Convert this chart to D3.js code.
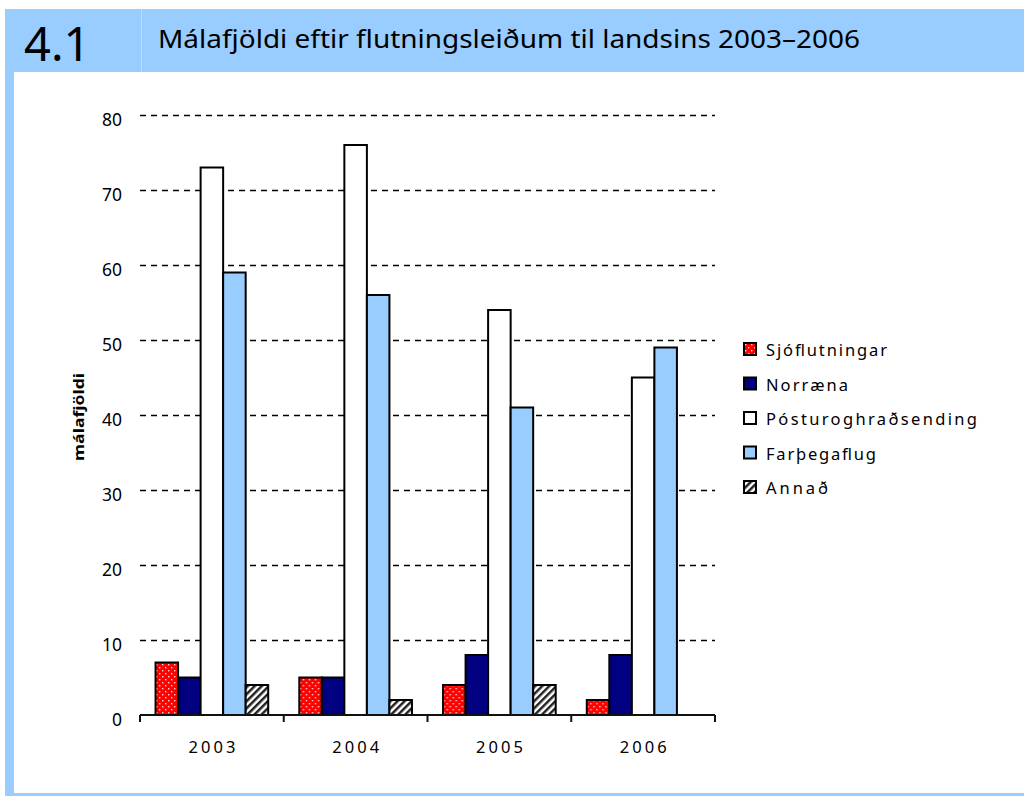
<!DOCTYPE html>
<html>
<head>
<meta charset="utf-8">
<script src="https://cdn.jsdelivr.net/npm/d3@7"></script>
<style>
  html, body { margin: 0; padding: 0; background: #fff; }
  svg { display: block; font-family: "Noto Sans", "Open Sans", sans-serif; }
</style>
</head>
<body>
<div id="chart"></div>
<script>
// data
const years = ["2003", "2004", "2005", "2006"]
const seriesNames = ["Sjóflutningar", "Norræna", "Pósturoghraðsending", "Farþegaflug", "Annað"]
const sjoflutningar = [7, 5, 4, 2]
const norraena = [5, 5, 8, 8]
const posturOgHradsending = [73, 76, 54, 45]
const farthegaflug = [59, 56, 41, 49]
const annad = [4, 2, 4, 0]
const yTicks = [0, 10, 20, 30, 40, 50, 60, 70, 80]

const seriesValues = [sjoflutningar, norraena, posturOgHradsending, farthegaflug, annad]
const seriesFill = ["url(#dots)", "#000080", "#ffffff", "#99ccff", "url(#hatch)"]
const legendWidths = [121, 82, 211, 110, 62]

const width = 1024, height = 796
const headerBlue = "#99ccff"

const svg = d3.select("#chart").append("svg")
  .attr("width", width)
  .attr("height", height)

// patterns
const defs = svg.append("defs")
const dots = defs.append("pattern")
  .attr("id", "dots")
  .attr("patternUnits", "userSpaceOnUse")
  .attr("width", 6).attr("height", 6)
dots.append("rect").attr("width", 6).attr("height", 6).attr("fill", "#ff0000")
dots.append("rect").attr("x", 1).attr("y", 1).attr("width", 1.4).attr("height", 1.4).attr("fill", "#ffd0d0")
dots.append("rect").attr("x", 4).attr("y", 4).attr("width", 1.4).attr("height", 1.4).attr("fill", "#ffd0d0")

const hatch = defs.append("pattern")
  .attr("id", "hatch")
  .attr("patternUnits", "userSpaceOnUse")
  .attr("width", 5).attr("height", 5)
  .attr("patternTransform", "rotate(45)")
hatch.append("rect").attr("width", 5).attr("height", 5).attr("fill", "#ffffff")
hatch.append("rect").attr("width", 2.5).attr("height", 5).attr("fill", "#222")

// frame: header band, left bar, bottom line
svg.append("rect").attr("x", 5).attr("y", 9).attr("width", width - 5).attr("height", 63).attr("fill", headerBlue)
svg.append("line").attr("x1", 141.5).attr("x2", 141.5).attr("y1", 9).attr("y2", 72)
  .attr("stroke", "#b8dcff").attr("stroke-width", 1)
svg.append("rect").attr("x", 5).attr("y", 72).attr("width", 9).attr("height", height - 72).attr("fill", headerBlue)
svg.append("rect").attr("x", 5).attr("y", 793).attr("width", width - 5).attr("height", 3).attr("fill", headerBlue)
svg.append("rect").attr("x", 24).attr("y", 72).attr("width", 105).attr("height", 2).attr("fill", "#fff")

svg.append("text")
  .attr("x", 24).attr("y", 61)
  .attr("font-size", 47)
  .attr("fill", "#000")
  .text("4.1")

svg.append("text")
  .attr("x", 158).attr("y", 48)
  .attr("font-size", 25)
  .attr("fill", "#000")
  .attr("textLength", 702)
  .attr("lengthAdjust", "spacingAndGlyphs")
  .text("Málafjöldi eftir flutningsleiðum til landsins 2003–2006")

// scales
const x0 = d3.scaleBand().domain(years).range([140, 715]).padding(0)
const x1 = d3.scaleBand().domain(d3.range(seriesNames.length))
  .range([0, x0.bandwidth()]).paddingInner(0).paddingOuter(0.69)
const y = d3.scaleLinear().domain([0, 80]).range([715, 115])

// gridlines
svg.append("g").selectAll("line")
  .data(yTicks.filter(d => d > 0))
  .join("line")
  .attr("x1", 140).attr("x2", 715)
  .attr("y1", d => Math.round(y(d)) + 0.5).attr("y2", d => Math.round(y(d)) + 0.5)
  .attr("stroke", "#000")
  .attr("stroke-width", 1.5)
  .attr("stroke-dasharray", "6,5")

// y tick labels (no axis line)
svg.append("g").selectAll("text")
  .data(yTicks)
  .join("text")
  .attr("x", 122)
  .attr("y", d => y(d) + 11)
  .attr("text-anchor", "end")
  .attr("font-size", 17.5)
  .attr("fill", "#000")
  .text(d => d)

svg.append("text")
  .attr("transform", "translate(84,417) rotate(-90)")
  .attr("text-anchor", "middle")
  .attr("font-size", 14.5)
  .attr("font-weight", "bold")
  .attr("textLength", 88)
  .attr("lengthAdjust", "spacingAndGlyphs")
  .text("málafjöldi")

// bars
const groups = svg.append("g").selectAll("g")
  .data(years)
  .join("g")
  .attr("transform", d => "translate(" + x0(d) + ",0)")

groups.selectAll("rect")
  .data((yr, i) => seriesValues.map((vals, s) => ({ s: s, v: vals[i] })).filter(d => d.v > 0))
  .join("rect")
  .attr("x", d => x1(d.s))
  .attr("y", d => y(d.v))
  .attr("width", x1.bandwidth())
  .attr("height", d => y(0) - y(d.v))
  .attr("fill", d => seriesFill[d.s])
  .attr("stroke", "#000")
  .attr("stroke-width", 2)

// x axis
const xAxis = svg.append("g").attr("transform", "translate(0,715)")
xAxis.append("line").attr("x1", 140).attr("x2", 715)
  .attr("stroke", "#111").attr("stroke-width", 2)
xAxis.selectAll("line.tick")
  .data(years.map(d => x0(d)).concat([715]))
  .join("line")
  .attr("class", "tick")
  .attr("x1", d => d).attr("x2", d => d)
  .attr("y1", 0).attr("y2", 7)
  .attr("stroke", "#111").attr("stroke-width", 2)
xAxis.selectAll("text")
  .data(years)
  .join("text")
  .attr("x", d => x0(d) + x0.bandwidth() / 2)
  .attr("y", 38)
  .attr("text-anchor", "middle")
  .attr("font-size", 16.5)
  .attr("textLength", 47)
  .attr("lengthAdjust", "spacing")
  .text(d => d)

// legend
const legend = svg.append("g").selectAll("g")
  .data(seriesNames)
  .join("g")
  .attr("transform", (d, i) => "translate(744," + (349 + i * 34.5) + ")")
legend.append("rect")
  .attr("x", 0).attr("y", -6)
  .attr("width", 12).attr("height", 12)
  .attr("fill", (d, i) => seriesFill[i])
  .attr("stroke", "#000")
  .attr("stroke-width", 2)
legend.append("text")
  .attr("x", 22).attr("y", 7)
  .attr("font-size", 16.5)
  .attr("textLength", (d, i) => legendWidths[i])
  .attr("lengthAdjust", "spacing")
  .text(d => d)
</script>
</body>
</html>
